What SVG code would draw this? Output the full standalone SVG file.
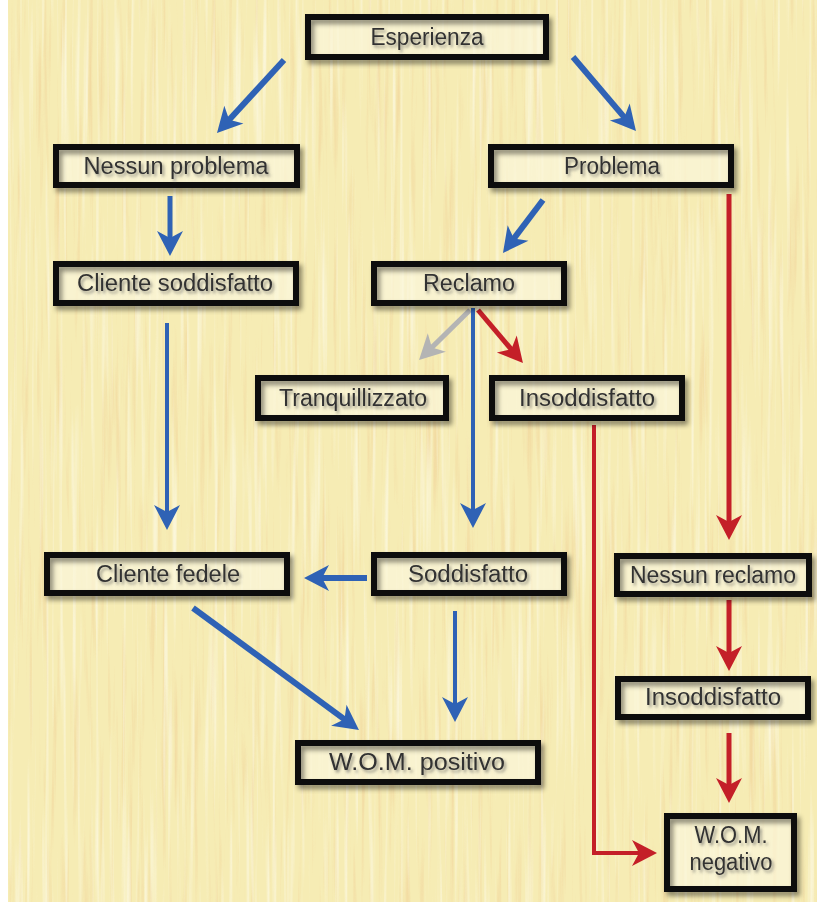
<svg xmlns="http://www.w3.org/2000/svg" width="817" height="902" viewBox="0 0 817 902">
<defs>
<filter id="tex" x="0" y="0" width="100%" height="100%">
<feTurbulence type="fractalNoise" baseFrequency="0.18 0.006" numOctaves="3" seed="7" result="n"/>
<feColorMatrix in="n" type="matrix" values="0 0 0 0 0.87  0 0 0 0 0.62  0 0 0 0 0.30  3.2 0 0 0 -1.75" result="o"/>
<feTurbulence type="fractalNoise" baseFrequency="0.22 0.005" numOctaves="2" seed="21" result="n2"/>
<feColorMatrix in="n2" type="matrix" values="0 0 0 0 1  0 0 0 0 1  0 0 0 0 0.95  0 3 0 0 -1.6" result="w"/>
<feMerge><feMergeNode in="o"/><feMergeNode in="w"/></feMerge>
</filter>
<filter id="sh" x="-10%" y="-20%" width="130%" height="150%">
<feDropShadow dx="3" dy="4" stdDeviation="2.5" flood-color="#000" flood-opacity="0.45"/>
</filter>
<filter id="tsh" x="-10%" y="-30%" width="130%" height="170%">
<feDropShadow dx="2" dy="2.5" stdDeviation="1.5" flood-color="#555" flood-opacity="0.6"/>
</filter>
<marker id="hb" viewBox="-15 -15 30 30" markerWidth="30" markerHeight="30" refX="0" refY="0" markerUnits="userSpaceOnUse" orient="auto" overflow="visible">
<path d="M12,0 L-13,-13 L-6,0 L-13,13 Z" fill="#2f62b5"/>
</marker>
<marker id="hr" viewBox="-15 -15 30 30" markerWidth="30" markerHeight="30" refX="0" refY="0" markerUnits="userSpaceOnUse" orient="auto" overflow="visible">
<path d="M12,0 L-13,-13 L-6,0 L-13,13 Z" fill="#c41f28"/>
</marker>
<marker id="hg" viewBox="-15 -15 30 30" markerWidth="30" markerHeight="30" refX="0" refY="0" markerUnits="userSpaceOnUse" orient="auto" overflow="visible">
<path d="M12,0 L-13,-13 L-6,0 L-13,13 Z" fill="#b4b4b4"/>
</marker>
</defs>
<style>
.fill{fill:#fbf7dc;fill-opacity:0.7;stroke:none}
.box{fill:none;stroke:#111;stroke-width:6;filter:url(#sh)}
.lbl{font-family:"Liberation Sans",Arial,sans-serif;font-size:23px;fill:#333;text-anchor:middle;filter:url(#tsh)}
.b{stroke:#2f62b5;fill:none;marker-end:url(#hb)}
.r{stroke:#c41f28;fill:none;marker-end:url(#hr)}
.g{stroke:#b4b4b4;fill:none;marker-end:url(#hg)}
</style>
<rect x="0" y="0" width="817" height="902" fill="#f6ecb4"/>
<rect x="0" y="0" width="817" height="902" filter="url(#tex)" opacity="0.55"/>
<rect x="0" y="0" width="8" height="902" fill="#ffffff"/>

<g id="connectors">
<path class="b" stroke-width="6" d="M284,60 L225.1,124.2"/>
<path class="b" stroke-width="6" d="M573,57 L628.2,121.9"/>
<path class="b" stroke-width="5" d="M170,196 V244"/>
<path class="b" stroke-width="6" d="M543,200 L510.2,243.4"/>
<path class="r" stroke-width="5" d="M729,194 V528"/>
<path class="g" stroke-width="5" d="M470,310 L427.6,351.6"/>
<path class="r" stroke-width="5" d="M478,310 L515.2,353.9"/>
<path class="b" stroke-width="4" d="M473,308 V516"/>
<path class="b" stroke-width="4" d="M167,323 V518"/>
<path class="r" stroke-width="4" d="M594,425 V853 H645"/>
<path class="b" stroke-width="6" d="M367,578 H316"/>
<path class="b" stroke-width="4" d="M455,611 V710"/>
<path class="b" stroke-width="6" d="M193,608 L349.3,722.9"/>
<path class="r" stroke-width="5" d="M729,600 V659"/>
<path class="r" stroke-width="5" d="M729,733 V791"/>
</g>

<g id="esperienza"><rect class="fill" x="308" y="17" width="238" height="40"/><rect class="box" x="308" y="17" width="238" height="40"/><text class="lbl" x="427" y="45" textLength="113" lengthAdjust="spacingAndGlyphs">Esperienza</text></g>
<g id="nessun-problema"><rect class="fill" x="56" y="147" width="241" height="38"/><rect class="box" x="56" y="147" width="241" height="38"/><text class="lbl" x="176" y="174" textLength="185" lengthAdjust="spacingAndGlyphs">Nessun problema</text></g>
<g id="problema"><rect class="fill" x="491" y="147" width="240" height="38"/><rect class="box" x="491" y="147" width="240" height="38"/><text class="lbl" x="612" y="174" textLength="96" lengthAdjust="spacingAndGlyphs">Problema</text></g>
<g id="cliente-soddisfatto"><rect class="fill" x="56" y="264" width="240" height="39"/><rect class="box" x="56" y="264" width="240" height="39"/><text class="lbl" x="175" y="291" textLength="196" lengthAdjust="spacingAndGlyphs">Cliente soddisfatto</text></g>
<g id="reclamo"><rect class="fill" x="374" y="264" width="190" height="39"/><rect class="box" x="374" y="264" width="190" height="39"/><text class="lbl" x="469" y="291" textLength="92" lengthAdjust="spacingAndGlyphs">Reclamo</text></g>
<g id="tranquillizzato"><rect class="fill" x="258" y="378" width="188" height="40"/><rect class="box" x="258" y="378" width="188" height="40"/><text class="lbl" x="353" y="406" textLength="148" lengthAdjust="spacingAndGlyphs">Tranquillizzato</text></g>
<g id="insoddisfatto-1"><rect class="fill" x="492" y="378" width="190" height="40"/><rect class="box" x="492" y="378" width="190" height="40"/><text class="lbl" x="587" y="406" textLength="136" lengthAdjust="spacingAndGlyphs">Insoddisfatto</text></g>
<g id="cliente-fedele"><rect class="fill" x="47" y="555" width="240" height="38"/><rect class="box" x="47" y="555" width="240" height="38"/><text class="lbl" x="168" y="582" textLength="144" lengthAdjust="spacingAndGlyphs">Cliente fedele</text></g>
<g id="soddisfatto"><rect class="fill" x="374" y="555" width="190" height="38"/><rect class="box" x="374" y="555" width="190" height="38"/><text class="lbl" x="468" y="582" textLength="120" lengthAdjust="spacingAndGlyphs">Soddisfatto</text></g>
<g id="nessun-reclamo"><rect class="fill" x="617" y="556" width="192" height="38"/><rect class="box" x="617" y="556" width="192" height="38"/><text class="lbl" x="713" y="583" textLength="166" lengthAdjust="spacingAndGlyphs">Nessun reclamo</text></g>
<g id="insoddisfatto-2"><rect class="fill" x="618" y="679" width="190" height="38"/><rect class="box" x="618" y="679" width="190" height="38"/><text class="lbl" x="713" y="705" textLength="136" lengthAdjust="spacingAndGlyphs">Insoddisfatto</text></g>
<g id="wom-positivo"><rect class="fill" x="298" y="743" width="240" height="39"/><rect class="box" x="298" y="743" width="240" height="39"/><text class="lbl" x="417" y="770" textLength="176" lengthAdjust="spacingAndGlyphs">W.O.M. positivo</text></g>
<g id="wom-negativo"><rect class="fill" x="667" y="816" width="127" height="73"/><rect class="box" x="667" y="816" width="127" height="73"/><text class="lbl" x="731" y="843" textLength="73" lengthAdjust="spacingAndGlyphs">W.O.M.</text><text class="lbl" x="731" y="870" textLength="83" lengthAdjust="spacingAndGlyphs">negativo</text></g>
</svg>
